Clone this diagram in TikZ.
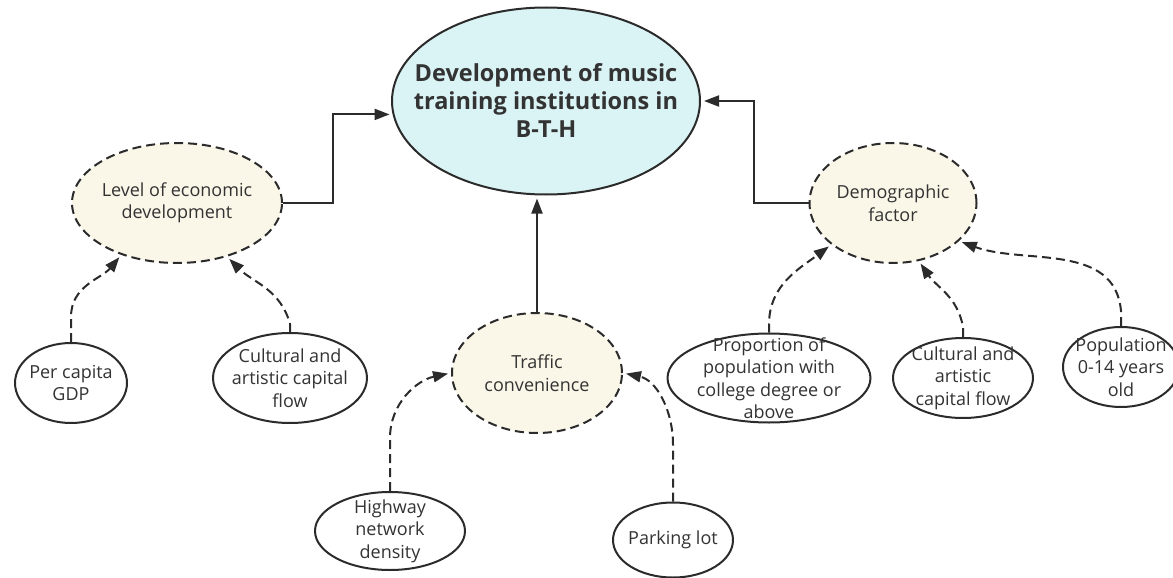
\documentclass[tikz,border=0pt]{standalone}
\usepackage{fontspec}
\setmainfont{Open Sans}
\usetikzlibrary{positioning, calc, arrows.meta, shapes.geometric}
\tikzset{>={Triangle[length=15pt, width=11pt]}}
\definecolor{textgray}{HTML}{333333}
\definecolor{linegray}{HTML}{2B2B2B}
\definecolor{mainfill}{HTML}{DAF3F4}
\definecolor{factorfill}{HTML}{FAF6E8}

\begin{document}
\begin{tikzpicture}
    [
        x=1pt, y=-1pt,
        main_node/.style={ellipse, draw=linegray, fill=mainfill, line width=2pt, inner sep=0pt, minimum width=308pt, minimum height=187pt},
        factor_node/.style={ellipse, draw=linegray, fill=factorfill, line width=2pt, dash pattern=on 9pt off 5pt, inner sep=0pt},
        leaf_node/.style={ellipse, draw=linegray, fill=white, line width=2pt, inner sep=0pt},
        txt/.style={text=textgray, align=center, font=\fontsize{18}{22.5}\selectfont, inner sep=0pt},
        title_txt/.style={text=textgray, align=center, font=\bfseries\fontsize{23.5}{28}\selectfont, inner sep=0pt},
        solid_arrow/.style={->, draw=linegray, line width=2pt, shorten >=3pt},
        dashed_arrow/.style={->, draw=linegray, line width=2pt, dash pattern=on 9pt off 5pt, shorten >=3pt},
    ]
  \useasboundingbox (0,0) rectangle (1173,578);

  % target
  \node[main_node, label={[title_txt]center:{Development of music\\training institutions in\\B-T-H}}] (main) at (546,101) {};

  % factors
  \node[factor_node, minimum width=210pt, minimum height=120pt, label={[txt]center:{Level of economic\\development}}] (econ) at (177,203) {};
  \node[factor_node, minimum width=167pt, minimum height=120pt, label={[txt]center:{Demographic\\factor}}] (demo) at (893,203) {};
  \node[factor_node, minimum width=170pt, minimum height=120pt, label={[txt]center:{Traffic\\convenience}}] (traf) at (537,373) {};

  % indicators
  \node[leaf_node, minimum width=112pt, minimum height=80pt, label={[txt]center:{Per capita\\GDP}}] (gdp) at (71,383) {};
  \node[leaf_node, minimum width=154pt, minimum height=90pt, label={[txt]center:{Cultural and\\artistic capital\\flow}}] (cultL) at (290,378) {};
  \node[leaf_node, minimum width=150pt, minimum height=78pt, label={[txt]center:{Highway\\network\\density}}] (hwy) at (390,531) {};
  \node[leaf_node, minimum width=120pt, minimum height=75pt, label={[txt]center:{Parking lot}}] (park) at (673,540) {};
  \node[leaf_node, minimum width=203pt, minimum height=89pt, label={[txt]center:{Proportion of\\population with\\college degree or\\above}}] (prop) at (769,378) {};
  \node[leaf_node, minimum width=140pt, minimum height=80pt, label={[txt]center:{Cultural and\\artistic\\capital flow}}] (cultR) at (963,378) {};
  \node[leaf_node, minimum width=116pt, minimum height=80pt, label={[txt]center:{Population\\0-14 years\\old}}] (pop) at (1121,367) {};

  % factors -> target
  \draw[solid_arrow] (econ.east) -- ++(50,0) |- (main.185);
  \draw[solid_arrow] (demo.west) -- ++(-55,0) |- (main.east);
  \draw[solid_arrow] (traf.north) -- (traf.north |- main.south);

  % indicators -> factors
  \draw[dashed_arrow] (gdp.north) -- ++(0,-25) to[out=90, in=230] (econ.223);
  \draw[dashed_arrow] (cultL.north) -- ++(0,-8) to[out=105, in=-45] (econ.313);
  \draw[dashed_arrow] (hwy.north) -- ++(0,-53) to[out=90, in=192] (traf.west);
  \draw[dashed_arrow] (park.north) -- ++(0,-57) to[out=90, in=-12] (traf.east);
  \draw[dashed_arrow] (prop.north) -- ++(0,-8) to[out=90, in=217] (demo.214);
  \draw[dashed_arrow] (cultR.north) -- ++(0,-10) to[out=100, in=-56] (demo.294);
  \draw[dashed_arrow] (pop.north) -- ++(0,-15) to[out=95, in=-20] (demo.330);
\end{tikzpicture}
\end{document}
